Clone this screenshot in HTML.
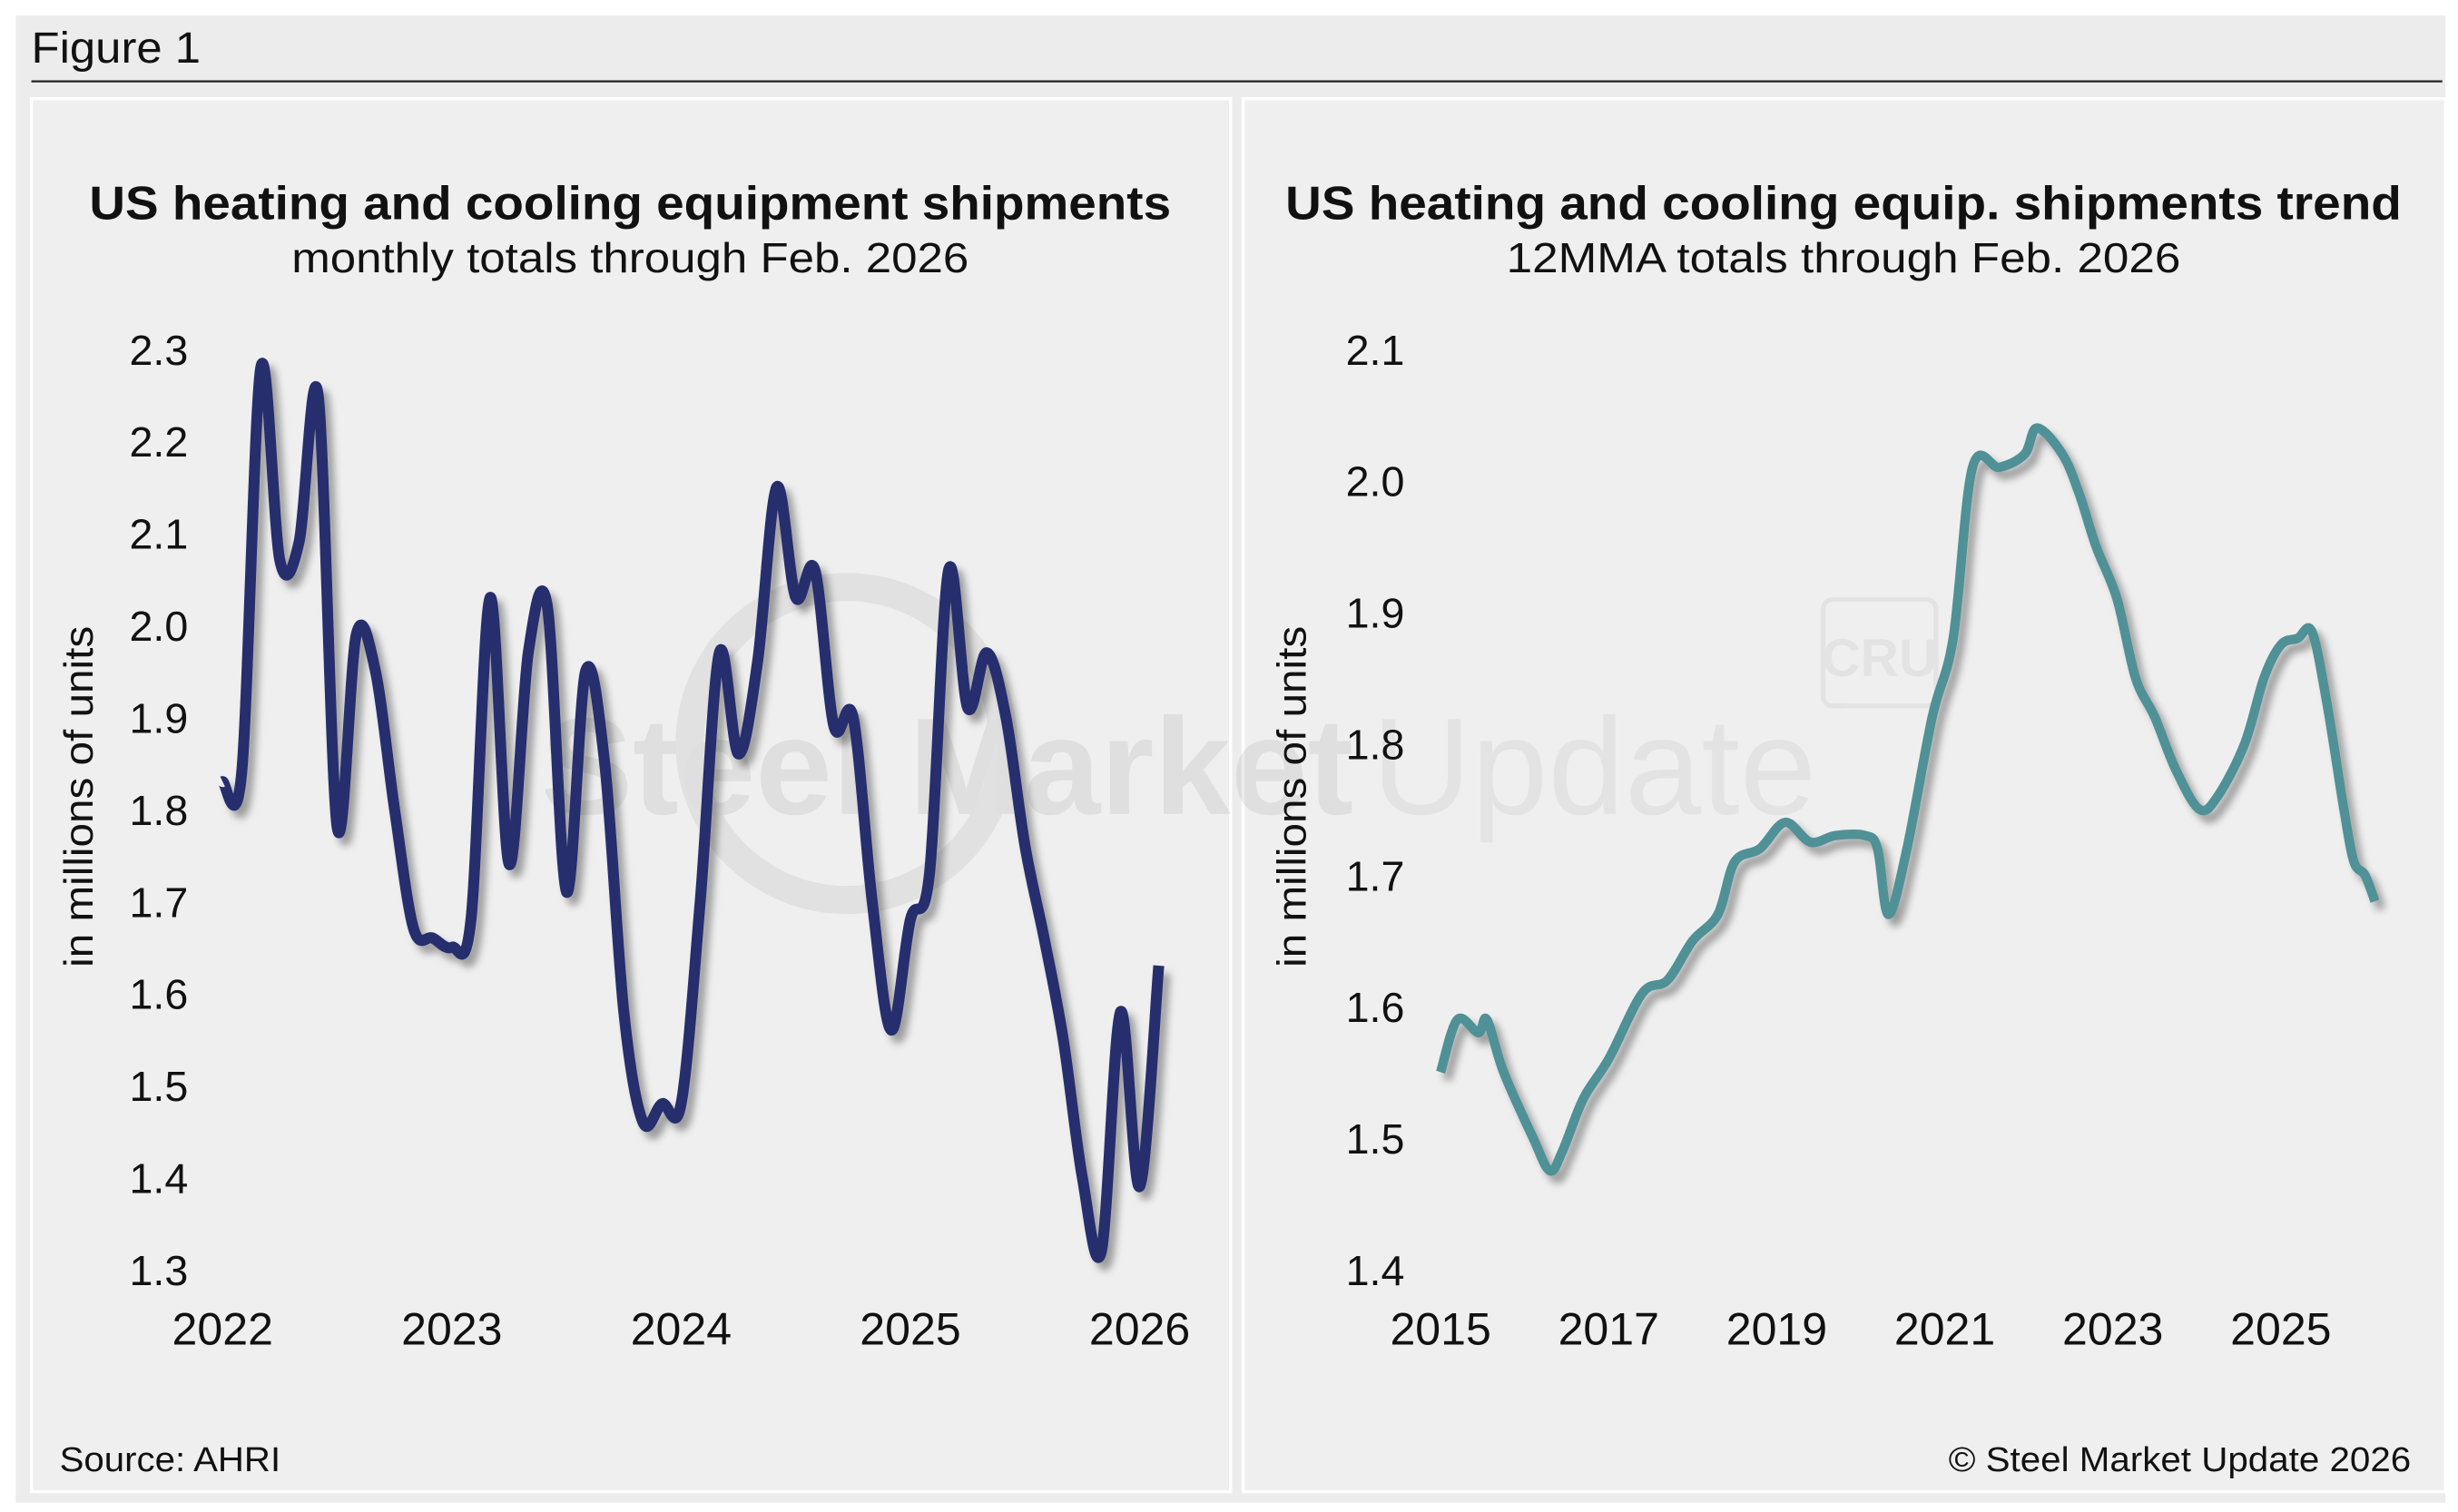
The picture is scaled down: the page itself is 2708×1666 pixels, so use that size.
<!DOCTYPE html>
<html><head><meta charset="utf-8"><style>
html,body{margin:0;padding:0;background:#fff;}
svg{display:block;font-family:"Liberation Sans",Arial,sans-serif;}
</style></head><body>
<svg id="fig" width="2708" height="1666" viewBox="0 0 1568 966" preserveAspectRatio="none">
<defs><filter id="sh" x="-10%" y="-10%" width="120%" height="120%"><feGaussianBlur in="SourceAlpha" stdDeviation="2.5"/><feOffset dx="4" dy="5"/><feComponentTransfer><feFuncA type="linear" slope="0.35"/></feComponentTransfer><feMerge><feMergeNode/><feMergeNode in="SourceGraphic"/></feMerge></filter></defs>
<rect x="0" y="0" width="1568" height="966" fill="#ffffff"/>
<rect x="10" y="10" width="1550" height="950" fill="#ececec"/>
<text x="20" y="40" font-size="28" textLength="108" lengthAdjust="spacingAndGlyphs" fill="#111">Figure 1</text>
<line x1="20" y1="52" x2="1558" y2="52" stroke="#222" stroke-width="1.3"/>
<rect x="20" y="63" width="765" height="890" fill="#efefef" stroke="#fff" stroke-width="2"/>
<rect x="793" y="63" width="767" height="890" fill="#efefef" stroke="#fff" stroke-width="2"/>
<g opacity="0.13">
<circle cx="540" cy="475" r="100" fill="none" stroke="#888" stroke-width="18"/>
<text x="345" y="520" font-size="88" font-weight="bold" fill="#777">Steel Market</text>
<text x="875" y="520" font-size="88" fill="#999">Update</text>
<rect x="1163" y="383" width="72" height="68" rx="6" fill="none" stroke="#999" stroke-width="3"/>
<text x="1199" y="432" font-size="34" text-anchor="middle" font-weight="bold" fill="#999">CRU</text>
</g>
<text x="57" y="140" font-size="30" font-weight="bold" textLength="690" lengthAdjust="spacingAndGlyphs" fill="#111">US heating and cooling equipment shipments</text>
<text x="186" y="174" font-size="27" textLength="432" lengthAdjust="spacingAndGlyphs" fill="#111">monthly totals through Feb. 2026</text>
<text x="820" y="140" font-size="30" font-weight="bold" textLength="712" lengthAdjust="spacingAndGlyphs" fill="#111">US heating and cooling equip. shipments trend</text>
<text x="961" y="174" font-size="27" textLength="430" lengthAdjust="spacingAndGlyphs" fill="#111">12MMA totals through Feb. 2026</text>
<text transform="translate(59,618) rotate(-90)" font-size="26" textLength="218" lengthAdjust="spacingAndGlyphs" fill="#111">in millions of units</text>
<text transform="translate(833,618) rotate(-90)" font-size="26" textLength="218" lengthAdjust="spacingAndGlyphs" fill="#111">in millions of units</text>
<text x="38" y="940" font-size="22" textLength="141" lengthAdjust="spacingAndGlyphs" fill="#111">Source: AHRI</text>
<text x="1243" y="940" font-size="22" textLength="295" lengthAdjust="spacingAndGlyphs" fill="#111">© Steel Market Update 2026</text>
<g id="left"></g><g id="right"></g>
</svg>
<script>
const NS="http://www.w3.org/2000/svg";
// Left chart data (monthly, Jan 2022 .. Feb 2026)
const leftValues=[1.83,1.84,2.28,2.07,2.09,2.25,1.78,1.99,1.95,1.80,1.67,1.66,1.65,1.68,2.03,1.74,1.97,2.02,1.71,1.95,1.85,1.58,1.46,1.48,1.48,1.70,1.97,1.86,1.96,2.15,2.03,2.06,1.89,1.90,1.70,1.56,1.68,1.73,2.06,1.91,1.97,1.90,1.76,1.66,1.55,1.40,1.32,1.58,1.39,1.63];
const leftYTicks=[2.3,2.2,2.1,2.0,1.9,1.8,1.7,1.6,1.5,1.4,1.3];
const leftXTicks=["2022","2023","2024","2025","2026"];
// Right chart data (12MMA)
const rightDates=[2015.0,2015.2,2015.45,2015.55,2015.75,2016.1,2016.3,2016.45,2016.7,2017.0,2017.4,2017.7,2018.0,2018.3,2018.5,2018.8,2019.1,2019.4,2019.7,2020.05,2020.2,2020.33,2020.55,2020.85,2021.1,2021.33,2021.65,2021.95,2022.1,2022.4,2022.6,2022.8,2023.05,2023.27,2023.5,2023.75,2024.03,2024.25,2024.57,2024.8,2025.0,2025.2,2025.37,2025.55,2025.75,2025.87,2026.0,2026.12];
const rightValues=[1.55,1.59,1.58,1.59,1.55,1.50,1.475,1.49,1.53,1.56,1.61,1.62,1.65,1.67,1.71,1.72,1.74,1.725,1.73,1.73,1.72,1.67,1.72,1.82,1.88,2.01,2.01,2.02,2.04,2.02,1.99,1.95,1.91,1.85,1.82,1.78,1.75,1.76,1.80,1.85,1.875,1.88,1.885,1.83,1.75,1.71,1.70,1.68];
const rightYTicks=[2.1,2.0,1.9,1.8,1.7,1.6,1.5,1.4];
const rightXTicks=[2015,2017,2019,2021,2023,2025];

function lx(i){return 142+i*(585/48);}
function ly(v){return 223+(2.3-v)*588;}
function rx(d){return 919+(d-2015)*53.6;}
function ry(v){return 223+(2.1-v)*840;}

function smooth(pts){
  let d="M"+pts[0][0]+","+pts[0][1];
  for(let i=0;i<pts.length-1;i++){
    const p0=pts[Math.max(0,i-1)],p1=pts[i],p2=pts[i+1],p3=pts[Math.min(pts.length-1,i+2)];
    const c1=[p1[0]+(p2[0]-p0[0])/6,p1[1]+(p2[1]-p0[1])/6];
    const c2=[p2[0]-(p3[0]-p1[0])/6,p2[1]-(p3[1]-p1[1])/6];
    d+=" C"+c1+" "+c2+" "+p2;
  }
  return d;
}
function txt(g,x,y,s,anchor){
  const t=document.createElementNS(NS,"text");
  t.setAttribute("x",x);t.setAttribute("y",y);t.setAttribute("font-size","27");
  t.setAttribute("text-anchor",anchor);t.setAttribute("fill","#111");t.textContent=s;
  g.appendChild(t);return t;
}
const L=document.getElementById("left");
leftYTicks.forEach(v=>{const t=txt(L,120,ly(v)+10,v.toFixed(1),"end");

});
leftXTicks.forEach((s,i)=>{const t=txt(L,lx(i*12),859,s,"middle");t.setAttribute("font-size","29");

});
const lp=document.createElementNS(NS,"path");
lp.setAttribute("d",smooth(leftValues.map((v,i)=>[lx(i),ly(v)])));
lp.setAttribute("fill","none");lp.setAttribute("stroke","#262f6e");lp.setAttribute("stroke-width","7");
lp.setAttribute("stroke-linejoin","round");lp.setAttribute("filter","url(#sh)");


L.appendChild(lp);

const R=document.getElementById("right");
rightYTicks.forEach(v=>{const t=txt(R,896,ry(v)+10,v.toFixed(1),"end");

});
rightXTicks.forEach(y=>{const t=txt(R,rx(y),859,String(y),"middle");t.setAttribute("font-size","29");

});
const rp=document.createElementNS(NS,"path");
rp.setAttribute("d",smooth(rightDates.map((d,i)=>[rx(d),ry(rightValues[i])])));
rp.setAttribute("fill","none");rp.setAttribute("stroke","#4f9196");rp.setAttribute("stroke-width","6");
rp.setAttribute("stroke-linejoin","round");rp.setAttribute("filter","url(#sh)");


R.appendChild(rp);
</script>
</body></html>
